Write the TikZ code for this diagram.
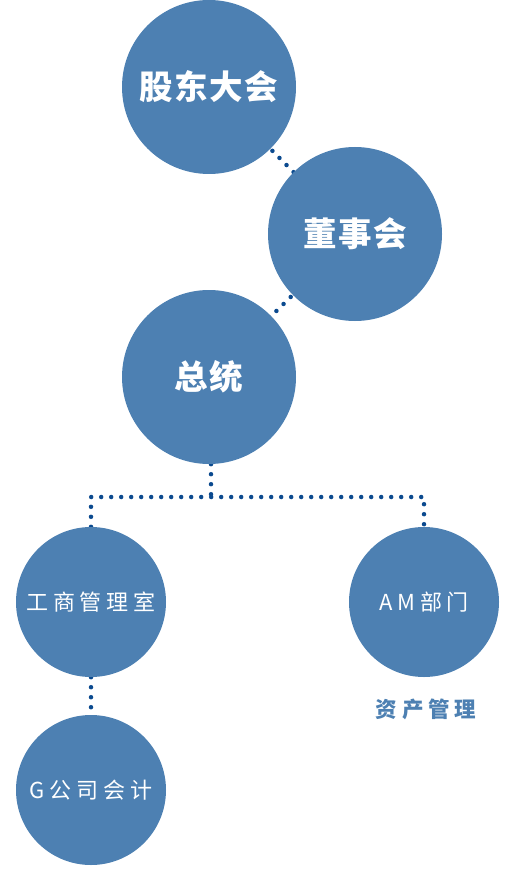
\documentclass[tikz,border=0pt]{standalone}
\usepackage{fontspec}
\usetikzlibrary{backgrounds}
\newfontfamily\orgfont{Noto Sans CJK SC}[LetterSpace=4]
\newfontfamily\orgfontwide{Noto Sans CJK SC}[LetterSpace=22]
\definecolor{orgblue}{HTML}{4D80B2}
\definecolor{orgdot}{HTML}{0B4A8F}
\tikzset{
  orgbig/.style={
    circle, fill=orgblue, minimum size=174pt, inner sep=0pt, text=white,
    font=\orgfont\bfseries\fontsize{33.5}{34}\selectfont},
  orgsmall/.style={
    circle, fill=orgblue, minimum size=150pt, inner sep=0pt, text=white,
    font=\orgfontwide\fontsize{22}{22}\selectfont},
  orgdots/.style={
    draw=orgdot, line width=4.5pt, line cap=round,
    dash pattern=on 0pt off 10pt},
  orgnote/.style={text=orgblue, font=\orgfontwide\bfseries\fontsize{21.5}{22}\selectfont},
}

\begin{document}
\begin{tikzpicture}[x=1pt, y=1pt]
\useasboundingbox (0, 0) rectangle (526, -890);

% Board levels.
\node[orgbig] (gudong) at (209, -87) {股东大会};
\node[orgbig] (dongshi) at (355, -234) {董事会};
\node[orgbig] (zongtong) at (209, -377) {总统};

% Departments.
\node[orgsmall] (gongshang) at (91, -602) {工商管理室};
\node[orgsmall] (am) at (424, -602) {AM部门};
\node[orgsmall] (gsi) at (91, -790) {G公司会计};
\node[orgnote] (zichan) at (426, -709) {资产管理};

% Dotted links.
\coordinate (split) at (211, -497);
\begin{scope}[on background layer]
\draw[orgdots] (gudong.center) -- (dongshi.center);
\draw[orgdots] (dongshi.center) -- (zongtong.center);
\draw[orgdots] (split |- zongtong.south) -- (split);
\draw[orgdots] (gongshang.north) |- (split) -| (am.north);
\draw[orgdots] (gongshang.south) -- (gsi.north);
\end{scope}

\end{tikzpicture}
\end{document}
